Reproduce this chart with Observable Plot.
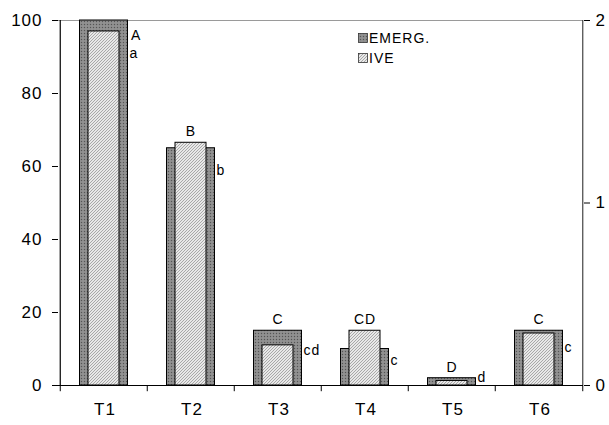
<!DOCTYPE html>
<html><head><meta charset="utf-8">
<script src="https://cdn.jsdelivr.net/npm/d3@7"></script>
<script src="https://cdn.jsdelivr.net/npm/@observablehq/plot@0.6"></script>
<style>body{margin:0;background:#fff}</style>
</head><body><div id="chart"></div>
<script>
const categories = ["T1","T2","T3","T4","T5","T6"];
const emerg = [100, 65, 15, 10, 2, 15];          // left axis (0-100)
const ive = [1.94, 1.33, 0.22, 0.30, 0.025, 0.285]; // right axis (0-2)
const upperLetters = ["A","B","C","CD","D","C"];
const lowerLetters = ["a","b","cd","c","d","c"];
const lowerAnchor = [91, 59, 9.6, 6.8, 2.2, 10.4];  // annotation anchors (left-axis units)
const leftTicks = [0,20,40,60,80,100];
const rightTicks = [0,1,2];
const seriesNames = ["EMERG.","IVE"];

const k = 50; // right axis to left axis factor
const rows = categories.map((c,i)=>({cat:c, emerg:emerg[i], ive:ive[i], up:upperLetters[i], low:lowerLetters[i], lowY:lowerAnchor[i], top:Math.max(emerg[i], ive[i]*k)}));
const half = 43.75;
const font = "Liberation Sans, Arial, sans-serif";

const chart = Plot.plot({
  width:609, height:425, marginLeft:58, marginRight:26, marginTop:20, marginBottom:40,
  x:{domain:categories, padding:0, label:null},
  y:{domain:[0,100], label:null},
  style:{fontFamily:font, fontSize:"17px", color:"black", background:"white", overflow:"visible"},
  marks:[
    Plot.ruleY([100], {stroke:"#9a9a9a", strokeWidth:1.2}),
    Plot.barY(rows, {x:"cat", y:"emerg", fill:"url(#pEmerg)", stroke:"black", strokeWidth:1, insetLeft:19.5, insetRight:19.5}),
    Plot.barY(rows, {x:"cat", y:d=>d.ive*k, fill:"url(#pIve)", stroke:"black", strokeWidth:1, insetLeft:28, insetRight:28}),
    Plot.ruleY([0], {stroke:"black", strokeWidth:1.2}),
    Plot.ruleX([categories[0]], {dx:-half, y1:0, y2:100, stroke:"black", strokeWidth:1.2}),
    Plot.ruleX([categories[5]], {dx:half, y1:0, y2:100, stroke:"#444", strokeWidth:1.2}),
    Plot.ruleX(categories, {dx:-half, y1:0, y2:-1.7, stroke:"black"}),
    Plot.ruleX([categories[5]], {dx:half, y1:0, y2:-1.7, stroke:"black"}),
    Plot.axisY({ticks:leftTicks, tickSize:6, tickPadding:10, label:null, fontSize:17}),
    Plot.axisY({anchor:"right", ticks:rightTicks.map(v=>v*k), tickFormat:d=>String(d/k), tickSize:6, tickPadding:6, label:null, fontSize:17}),
    Plot.axisX({tickSize:0, tickPadding:17, label:null, fontSize:17, dx:1}),
    // uppercase letters (T1 placed to the right of the bar top)
    Plot.text(rows.slice(1), {x:"cat", y:"top", text:"up", dy:-11, fontSize:14, fill:"black"}),
    Plot.text(rows.slice(0,1), {x:"cat", y:95.9, text:"up", dx:27, textAnchor:"start", fontSize:14, fill:"black"}),
    Plot.text(rows, {x:"cat", y:"lowY", text:"low", dx:25.5, textAnchor:"start", fontSize:14, fill:"black"})
  ]
});

const svg = d3.select(chart);
svg.selectAll("text").attr("letter-spacing", "1");
const defs = svg.insert("defs", ":first-child");
const pe = defs.append("pattern").attr("id","pEmerg").attr("patternUnits","userSpaceOnUse").attr("width",3).attr("height",3);
pe.append("rect").attr("width",3).attr("height",3).attr("fill","#8a8a8a");
pe.append("rect").attr("x",0).attr("y",0).attr("width",1).attr("height",1).attr("fill","#555");
pe.append("rect").attr("x",1.5).attr("y",1.5).attr("width",1).attr("height",1).attr("fill","#a8a8a8");
const pi = defs.append("pattern").attr("id","pIve").attr("patternUnits","userSpaceOnUse").attr("width",3).attr("height",3);
pi.append("rect").attr("width",3).attr("height",3).attr("fill","#e8e8e8");
pi.append("path").attr("d","M-1,1 L1,-1 M0,3 L3,0 M2,4 L4,2").attr("stroke","#a0a0a0").attr("stroke-width",0.9);

// legend inside plot area
const lg = svg.append("g").attr("font-family", font).attr("font-size", 14).attr("letter-spacing","1").attr("text-anchor","start");
seriesNames.forEach((n,i)=>{
  const y = 38 + i*20;
  lg.append("rect").attr("x",358.5).attr("y",y-4.5).attr("width",9).attr("height",9)
    .attr("fill", i===0 ? "url(#pEmerg)" : "url(#pIve)").attr("stroke","#333").attr("stroke-width",0.8);
  lg.append("text").attr("x",369).attr("y",y).attr("dy","0.36em").attr("fill","black").text(n);
});
document.getElementById("chart").appendChild(chart);
</script></body></html>
